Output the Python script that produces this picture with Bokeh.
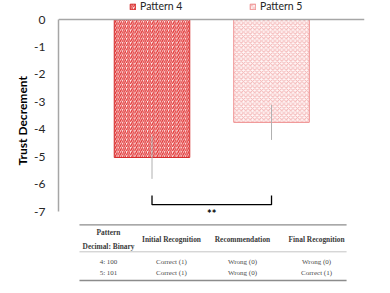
from bokeh.plotting import figure
from bokeh.models import Range1d, Span, Legend, LegendItem, ColumnDataSource, FixedTicker, Title
from bokeh.embed import file_html
from bokeh.resources import INLINE
from bokeh.core.properties import value

# ---- data ----
patterns = ["Pattern 4", "Pattern 5"]
positions = [1, 2]
means = [-5.03, -3.75]
errors = [0.78, 0.64]
y_ticks = [0, -1, -2, -3, -4, -5, -6, -7]
significance = "**"

table_col_headers = ["Initial Recognition", "Recommendation", "Final Recognition"]
table_first_header = ["Pattern", "Decimal: Binary"]
pattern_codes = ["4: 100", "5: 101"]
initial_recognition = ["Correct (1)", "Correct (1)"]
recommendation = ["Wrong (0)", "Wrong (0)"]
final_recognition = ["Wrong (0)", "Correct (1)"]

# ---- styles ----
bar_fill = ["#FFFFFF", "#FFF7F7"]
bar_hatch = ["/", "x"]
bar_hatch_color = ["#E23434", "#F3B4B4"]
bar_hatch_weight = [1.3, 1.0]
bar_hatch_scale = [4.2, 4.5]
bar_line = ["#D42A2A", "#EE8C8C"]

SANS = "Lato"
SERIF = "Liberation Serif"
X0, X1 = 0.2176, 2.778

p = figure(width=374, height=284, output_backend="svg", toolbar_location=None,
           x_range=Range1d(X0, X1), y_range=Range1d(-9.661, 0.6927),
           x_axis_location=None, min_border_left=58, min_border_right=10,
           min_border_top=0, min_border_bottom=0, outline_line_color=None)
p.xgrid.visible = False
p.ygrid.visible = False

# y axis
ax = p.yaxis[0]
ax.bounds = (-7, 0)
ax.ticker = FixedTicker(ticks=y_ticks)
ax.major_label_overrides = {t: str(t) for t in y_ticks}
ax.major_tick_line_color = None
ax.minor_tick_line_color = None
ax.major_tick_out = 0
ax.major_tick_in = 0
ax.minor_tick_out = 0
ax.minor_tick_in = 0
ax.axis_line_color = "#A6A6A6"
ax.axis_line_width = 1.5
ax.major_label_standoff = 13
ax.major_label_text_font = SANS
ax.major_label_text_font_size = "12px"
ax.major_label_text_color = "#262626"

# axis title, placed along the axis bounds
p.add_layout(Title(text="Trust Decrement", align="left", offset=119, standoff=4,
                   text_font=SANS, text_font_size="12px", text_font_style="bold",
                   text_color="#000000"), "left")

# zero line
p.add_layout(Span(location=0, dimension="width", line_color="#A6A6A6", line_width=1.5))

src = ColumnDataSource(dict(x=positions, top=[0, 0], bottom=means, name=patterns,
                            fill=bar_fill, hatch=bar_hatch, hcol=bar_hatch_color,
                            hw=bar_hatch_weight, hs=bar_hatch_scale, lcol=bar_line))
bars = p.vbar(x="x", top="top", bottom="bottom", width=0.632, source=src,
              fill_color="fill", hatch_pattern="hatch", hatch_color="hcol",
              hatch_scale="hs", hatch_weight="hw", line_color="lcol", line_width=1)

# error bars
err_src = ColumnDataSource(dict(x=positions,
                                lo=[m - e for m, e in zip(means, errors)],
                                hi=[m + e for m, e in zip(means, errors)]))
p.segment(x0="x", x1="x", y0="lo", y1="hi", source=err_src, line_color="#B0B0B0", line_width=1)

# significance bracket
br_y = -6.75
br_tick = 0.33
p.multi_line(xs=[[positions[0], positions[0], positions[1], positions[1]]],
             ys=[[br_y + br_tick, br_y, br_y, br_y + br_tick]], line_color="#000000", line_width=1.3)
p.text(x=[sum(positions) / 2], y=[-7.06], text=[significance], text_align="center",
       text_baseline="middle", text_font=value(SANS), text_font_size="11px",
       text_font_style="bold", text_color="#000000")

# legends
for i, name in enumerate(patterns):
    lg = Legend(items=[LegendItem(label=name, renderers=[bars], index=i)],
                location=(71 + 120 * i, 272), orientation="horizontal",
                padding=0, margin=0, spacing=0, glyph_width=7, glyph_height=7,
                label_height=10, label_standoff=4, label_text_font=SANS,
                label_text_font_size="10.5px", label_text_color="#262626",
                border_line_color=None, background_fill_alpha=0)
    p.add_layout(lg)

# ---- table ----
tab_left, tab_right = 0.393, 2.628
col_x = [0.636, 1.163, 1.757, 2.377]
y_top_rule, y_mid_rule, y_bot_rule = -7.485, -8.469, -9.515
y_head1, y_head2, y_head_mid = -7.777, -8.265, -8.02
row_y = [-8.833, -9.234]

p.segment(x0=[tab_left] * 3, x1=[tab_right] * 3,
          y0=[y_top_rule, y_mid_rule, y_bot_rule], y1=[y_top_rule, y_mid_rule, y_bot_rule],
          line_color=["#8C8C8C", "#B5B5B5", "#8C8C8C"], line_width=[1.3, 0.8, 1.3])

hdr_kw = dict(text_align="center", text_baseline="middle", text_font=value(SERIF),
              text_font_size="7.4px", text_font_style="bold", text_color="#3A3A3A")
p.text(x=[col_x[0], col_x[0]], y=[y_head1, y_head2], text=table_first_header, **hdr_kw)
p.text(x=col_x[1:], y=[y_head_mid] * 3, text=table_col_headers, **hdr_kw)

body_kw = dict(text_align="center", text_baseline="middle", text_font=value(SERIF),
               text_font_size="7px", text_color="#4A4A4A")
for cx, col in zip(col_x, [pattern_codes, initial_recognition, recommendation, final_recognition]):
    p.text(x=[cx] * len(col), y=row_y, text=col, **body_kw)

open("out.html", "w").write(file_html(p, INLINE))
